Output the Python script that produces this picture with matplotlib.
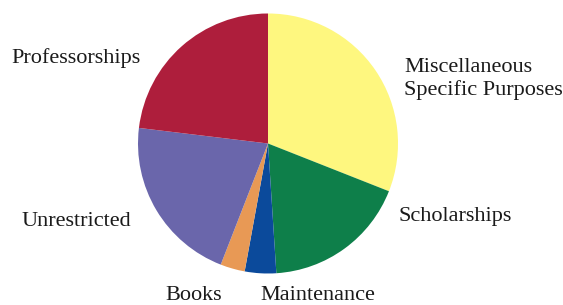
import matplotlib
matplotlib.use('Agg')
import matplotlib.pyplot as plt

# Slice data, clockwise from 12 o'clock
categories = ['Miscellaneous\nSpecific Purposes', 'Scholarships', 'Maintenance',
              'Books', 'Unrestricted', 'Professorships']
shares = [31.0, 18.0, 3.9, 3.05, 21.0, 23.1]
colors = ['#FEF77F', '#0E7F4A', '#0B4A9B', '#E89955', '#6A66AB', '#AE1E3C']

# label anchor points (pixel space, y measured from top)
label_pos = {
    'Miscellaneous\nSpecific Purposes': (404, 79, 'left'),
    'Scholarships': (399, 216, 'left'),
    'Maintenance': (260, 295, 'left'),
    'Books': (222, 295, 'right'),
    'Unrestricted': (131, 222, 'right'),
    'Professorships': (141, 58, 'right'),
}

W, H = 563, 305
fig = plt.figure(figsize=(W / 100, H / 100), dpi=100)
ax = fig.add_axes([0, 0, 1, 1])

ax.pie(shares, colors=colors, startangle=90, counterclock=False,
       center=(268, H - 143.5), radius=130, frame=True,
       wedgeprops=dict(linewidth=0))
ax.set_xlim(0, W)
ax.set_ylim(0, H)
ax.axis('off')

for name in categories:
    x, y, ha = label_pos[name]
    ax.text(x, H - y, name, ha=ha, va='center', fontsize=16,
            family='Liberation Serif', color='#1a1a1a', linespacing=1.15)

fig.savefig('out.png', dpi=100)
